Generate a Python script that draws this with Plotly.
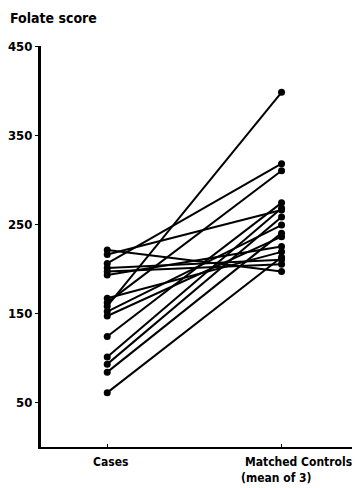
import plotly.graph_objects as go

groups = ["Cases", "Matched Controls"]
case_scores = [221, 216, 206, 201, 197, 193, 167, 162, 158, 152, 147, 124, 101, 93, 84, 61]
control_scores = [197, 266, 318, 210, 205, 225, 219, 310, 398, 249, 236, 274, 268, 258, 240, 213]
y_ticks = [50, 150, 250, 350, 450]

FONT = "DejaVu Sans Condensed"
# page body has an 8px default margin; compensate so the plot lands where the reference has it
OFF = 8
W, H = 360 - OFF, 488 - OFF
ML, MR, MT, MB = 41 - OFF, 7, 46 - OFF, 41
PW = W - ML - MR
PH = H - MT - MB


def px(xp):
    return (xp - 41) / PW


def py(yp):
    return (447 - yp) / PH


fig = go.Figure()
for c, m in zip(case_scores, control_scores):
    fig.add_trace(go.Scatter(
        x=[1, 2], y=[c, m], mode="lines+markers",
        line=dict(color="black", width=2),
        marker=dict(color="black", size=7),
        showlegend=False, hoverinfo="skip", cliponaxis=False))

fig.update_layout(
    width=W, height=H,
    margin=dict(l=ML, r=MR, t=MT, b=MB),
    plot_bgcolor="white", paper_bgcolor="white",
    font=dict(family=FONT, color="black", size=12),
    xaxis=dict(range=[0.62, 2.41], tickvals=[1, 2], showticklabels=False,
               showgrid=False, zeroline=False, showline=True, linecolor="black",
               linewidth=2, ticks="inside", ticklen=3, tickcolor="black",
               automargin=False),
    yaxis=dict(range=[0, 450], tickvals=y_ticks, ticktext=[f"<b>{v}</b>" for v in y_ticks],
               showgrid=False, zeroline=False, showline=True, linecolor="black",
               linewidth=3, ticks="outside", ticklen=3, tickcolor="black",
               tickfont=dict(size=13, family=FONT), automargin=False,
               ticklabelstandoff=0),
)

labels = [
    ("<b>Folate score</b>", 8, 18, "left", 14),
    ("<b>" + groups[0] + "</b>", 110, 462, "center", 12),
    ("<b>" + groups[1] + "</b>", 298, 462, "center", 12),
    ("<b>(mean of 3)</b>", 276, 478, "center", 12),
]
for text, x, y, anchor, size in labels:
    fig.add_annotation(text=text, xref="paper", yref="paper", x=px(x), y=py(y),
                       xanchor=anchor, yanchor="middle", showarrow=False,
                       font=dict(size=size, family=FONT, color="black"))

fig.write_html("out.html")
